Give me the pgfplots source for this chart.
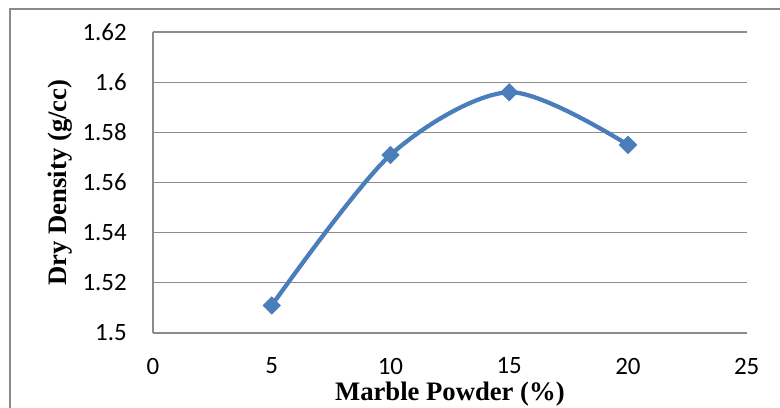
\documentclass[border=0pt]{standalone}
\usepackage{fontspec}
\setmainfont{Carlito}
\newfontfamily\labelfont{Liberation Serif}
\usepackage{pgfplots}
\pgfplotsset{compat=1.18}
\definecolor{seriesblue}{HTML}{4A7EBB}
\definecolor{gridgray}{HTML}{8C8C8C}
\definecolor{framegray}{HTML}{8A8A8A}
\begin{document}
\begin{tikzpicture}
\useasboundingbox (-114.75pt,-55.5pt) rectangle (470.25pt,249.75pt);
% chart frame
\draw[framegray, line width=1.4pt] (-107.25pt,-70pt) -- (-107.25pt,243pt) -- (480pt,243pt);
\begin{axis}[
  at={(0,0)}, anchor=south west,
  scale only axis,
  width=445.3pt, height=225.75pt,
  xmin=0, xmax=25, ymin=1.5, ymax=1.62,
  xtick={0,5,10,15,20,25},
  xticklabels={0,5,10,15,20,25},
  ytick={1.5,1.52,1.54,1.56,1.58,1.6,1.62},
  yticklabels={1.5,1.52,1.54,1.56,1.58,1.6,1.62},
  /pgf/number format/assume math mode=true,
  axis line style={draw=none},
  major tick length=0pt,
  ymajorgrids,
  grid style={gridgray, line width=0.9pt},
  tick label style={font=\fontsize{18.7}{20}\selectfont, text=black},
  yticklabel style={anchor=east, inner sep=0pt, xshift=-19.5pt},
  xticklabel style={anchor=north, inner sep=0pt, yshift=-18.5pt},
  xlabel={Marble Powder (\%)},
  ylabel={Dry Density (g/cc)},
  label style={font=\labelfont\bfseries\fontsize{20}{22}\selectfont},
  xlabel style={at={(axis description cs:0.5,0)}, anchor=base, inner sep=0pt, yshift=-50.25pt},
  ylabel style={at={([xshift=-69.75pt]axis description cs:0,0.5)}, anchor=center, inner sep=0pt},
  clip=false,
]
% left axis line
\draw[gridgray, line width=0.9pt] (axis cs:0,1.5) -- (axis cs:0,1.62);
\addplot[seriesblue, line width=3.2pt, smooth,
  mark=square*, mark size=4.6pt,
  mark options={rotate=45, solid, fill=seriesblue, draw=seriesblue, line width=0.5pt}]
  coordinates {(5,1.511) (10,1.571) (15,1.596) (20,1.575)};
\end{axis}
\end{tikzpicture}
\end{document}
